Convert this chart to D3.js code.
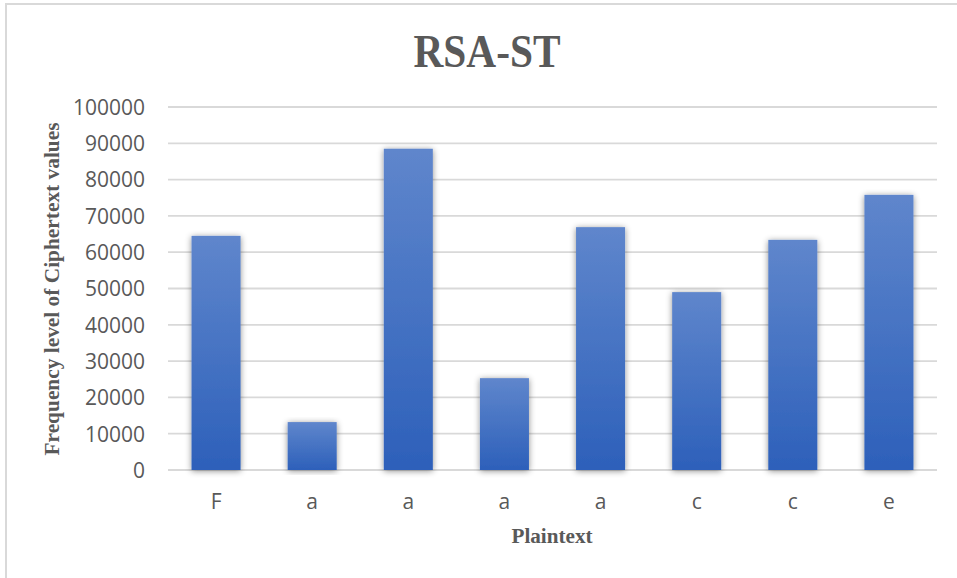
<!DOCTYPE html>
<html>
<head>
<meta charset="utf-8">
<script src="https://cdn.jsdelivr.net/npm/d3@7"></script>
<style>
  body { margin: 0; background: #fff; }
  svg { display: block; }
</style>
</head>
<body>
<svg id="chart" width="957" height="578"></svg>
<script>
// chart data
const categories = ["F", "a", "a", "a", "a", "c", "c", "e"];
const values = [64500, 13200, 88500, 25300, 66900, 49000, 63400, 75800];
const yTicks = [0, 10000, 20000, 30000, 40000, 50000, 60000, 70000, 80000, 90000, 100000];
const title = "RSA-ST";
const xTitle = "Plaintext";
const yTitle = "Frequency level of Ciphertext values";

const width = 957, height = 578;
const margin = { top: 107, right: 20, bottom: 108, left: 168 };
const serif = "'Liberation Serif', 'Times New Roman', serif";
const sans = "'Open Sans', 'Liberation Sans', sans-serif";
const textColor = "#595959";

const svg = d3.select("#chart");

// outer frame (only left/top visible in the reference)
svg.append("rect")
  .attr("x", 6).attr("y", 4)
  .attr("width", width).attr("height", height)
  .attr("fill", "#fff")
  .attr("stroke", "#d9d9d9")
  .attr("stroke-width", 2);

const defs = svg.append("defs");
const grad = defs.append("linearGradient")
  .attr("id", "barGrad")
  .attr("x1", 0).attr("y1", 0).attr("x2", 0).attr("y2", 1);
grad.append("stop").attr("offset", "0%").attr("stop-color", "#5f86cc");
grad.append("stop").attr("offset", "100%").attr("stop-color", "#2d60ba");

const shadow = defs.append("filter")
  .attr("id", "shadow")
  .attr("x", "-30%").attr("y", "-10%")
  .attr("width", "160%").attr("height", "120%");
shadow.append("feDropShadow")
  .attr("dx", 0).attr("dy", 1)
  .attr("stdDeviation", 3)
  .attr("flood-color", "#000")
  .attr("flood-opacity", 0.45);

const x = d3.scaleBand()
  .domain(d3.range(categories.length))
  .range([margin.left, width - margin.right])
  .paddingInner(0.49)
  .paddingOuter(0.245);

const y = d3.scaleLinear()
  .domain([0, 100000])
  .range([height - margin.bottom, margin.top]);

// gridlines
svg.append("g")
  .selectAll("line")
  .data(yTicks)
  .join("line")
  .attr("x1", margin.left)
  .attr("x2", width - margin.right)
  .attr("y1", d => y(d))
  .attr("y2", d => y(d))
  .attr("stroke", "#d9d9d9")
  .attr("stroke-width", 1.8);

// y axis labels
const yAxis = svg.append("g")
  .attr("transform", `translate(${margin.left - 23},0)`)
  .call(d3.axisLeft(y).tickValues(yTicks).tickSize(0).tickPadding(0).tickFormat(d3.format("d")));
yAxis.select(".domain").remove();
yAxis.selectAll("text")
  .attr("font-family", sans)
  .attr("font-size", 21)
  .attr("fill", textColor)
  .attr("dy", "0.35em");

// bars
svg.append("g")
  .selectAll("rect")
  .data(values)
  .join("rect")
  .attr("x", (d, i) => x(i))
  .attr("y", d => y(d))
  .attr("width", x.bandwidth())
  .attr("height", d => y(0) - y(d))
  .attr("fill", "url(#barGrad)")
  .attr("filter", "url(#shadow)");

// x axis labels
const xAxis = svg.append("g")
  .attr("transform", `translate(0,${y(0)})`)
  .call(d3.axisBottom(x).tickSize(0).tickPadding(0).tickFormat(i => categories[i]));
xAxis.select(".domain").remove();
xAxis.selectAll("text")
  .attr("font-family", sans)
  .attr("font-size", 21)
  .attr("fill", textColor)
  .attr("dy", null)
  .attr("y", 39);

// title
svg.append("text")
  .attr("x", 487).attr("y", 67)
  .attr("text-anchor", "middle")
  .attr("font-family", serif)
  .attr("font-weight", "bold")
  .attr("font-size", 47)
  .attr("fill", textColor)
  .attr("textLength", 147)
  .attr("lengthAdjust", "spacingAndGlyphs")
  .text(title);

// x axis title
svg.append("text")
  .attr("x", 552).attr("y", 543)
  .attr("text-anchor", "middle")
  .attr("font-family", serif)
  .attr("font-weight", "bold")
  .attr("font-size", 20)
  .attr("fill", textColor)
  .attr("textLength", 81)
  .attr("lengthAdjust", "spacingAndGlyphs")
  .text(xTitle);

// y axis title
svg.append("text")
  .attr("transform", "translate(59,289) rotate(-90)")
  .attr("text-anchor", "middle")
  .attr("font-family", serif)
  .attr("font-weight", "bold")
  .attr("font-size", 20)
  .attr("fill", textColor)
  .attr("textLength", 333)
  .attr("lengthAdjust", "spacingAndGlyphs")
  .text(yTitle);
</script>
</body>
</html>
